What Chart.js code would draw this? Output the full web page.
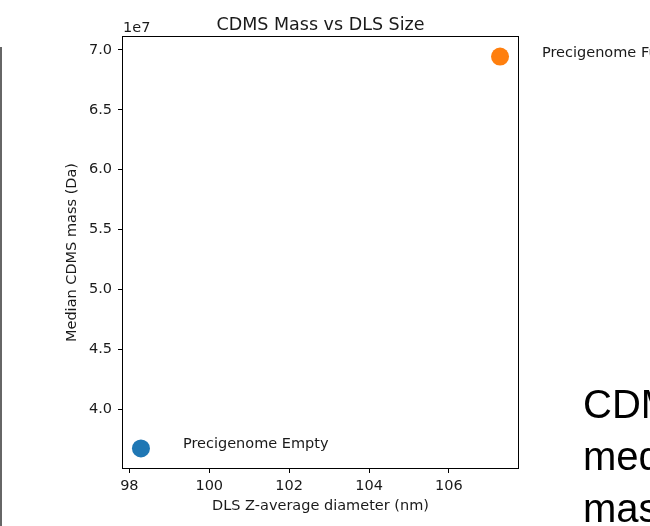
<!DOCTYPE html>
<html>
<head>
<meta charset="utf-8">
<script src="https://cdn.jsdelivr.net/npm/chart.js@4/dist/chart.umd.min.js"></script>
<style>
  html, body { margin: 0; padding: 0; background: #ffffff; }
  #wrap { position: relative; width: 650px; height: 526px; }
</style>
</head>
<body>
<div id="wrap"><canvas id="chart" width="650" height="526"></canvas></div>
<script>
// Samples: DLS Z-average diameter (nm) against median CDMS mass (Da)
const categories = ['Precigenome Empty', 'Precigenome Full'];
const dlsSize = [98.29, 107.28];
const cdmsMass = [3.672e7, 6.944e7];
const xTickValues = [98, 100, 102, 104, 106];
const yTickValues = [4.0e7, 4.5e7, 5.0e7, 5.5e7, 6.0e7, 6.5e7, 7.0e7];
const slideLines = ['CDMS', 'median', 'mass'];

const pointColors = ['#1f77b4', '#ff7f0e'];
const FONT = "'DejaVu Sans', sans-serif";
const TEXT = '#1a1a1a';

// 5% padding around the data range on both axes
function padded(values) {
  const lo = Math.min(...values), hi = Math.max(...values);
  const m = (hi - lo) * 0.05;
  return [lo - m, hi + m];
}
const [xMin, xMax] = padded(dlsSize);
const [yMin, yMax] = padded(cdmsMass);

const datasets = categories.map((name, i) => ({
  label: name,
  data: [{ x: dlsSize[i], y: cdmsMass[i] }],
  backgroundColor: pointColors[i],
  borderWidth: 0,
  pointRadius: 9,
  pointHoverRadius: 9
}));

const decorations = {
  id: 'decorations',
  beforeDraw(chart) {
    const ctx = chart.ctx;
    ctx.save();
    ctx.fillStyle = '#ffffff';
    ctx.fillRect(0, 0, chart.width, chart.height);
    // thin frame line along the left edge
    ctx.fillStyle = '#666666';
    ctx.fillRect(0, 47, 2, chart.height - 47);
    ctx.restore();
  },
  afterDraw(chart) {
    const ctx = chart.ctx;
    const a = chart.chartArea;
    const xs = chart.scales.x, ys = chart.scales.y;
    ctx.save();
    // axes box
    ctx.strokeStyle = '#000';
    ctx.lineWidth = 1;
    ctx.strokeRect(a.left - 0.5, a.top - 0.5, a.right - a.left + 1, a.bottom - a.top + 1);

    // title
    ctx.fillStyle = TEXT;
    ctx.font = '17.5px ' + FONT;
    ctx.textAlign = 'center';
    ctx.textBaseline = 'alphabetic';
    ctx.fillText('CDMS Mass vs DLS Size', (a.left + a.right) / 2, 29.5);

    // y offset text
    ctx.font = '14.5px ' + FONT;
    ctx.textAlign = 'left';
    ctx.fillText('1e7', a.left, 32);

    // point annotations
    categories.forEach((name, i) => {
      const px = xs.getPixelForValue(dlsSize[i] + 1.05);
      const py = ys.getPixelForValue(cdmsMass[i]);
      ctx.fillText(name, px, py);
    });

    // neighbouring slide text
    ctx.fillStyle = '#000';
    ctx.font = "40px 'Liberation Sans', Arial, sans-serif";
    slideLines.forEach((t, i) => ctx.fillText(t, 583, 418 + i * 52));
    ctx.restore();
  }
};

new Chart(document.getElementById('chart'), {
  type: 'scatter',
  data: { datasets },
  options: {
    responsive: false,
    animation: false,
    events: [],
    layout: { padding: { top: 37, right: 132, left: 0, bottom: 0 } },
    plugins: { legend: { display: false }, tooltip: { enabled: false }, title: { display: false } },
    scales: {
      x: {
        type: 'linear',
        min: xMin,
        max: xMax,
        afterFit(scale) { scale.height = 58; },
        afterBuildTicks(scale) { scale.ticks = xTickValues.map(v => ({ value: v })); },
        border: { display: false },
        grid: { display: true, drawOnChartArea: false, drawTicks: true, tickLength: 5, color: '#000', lineWidth: 1 },
        ticks: { color: TEXT, font: { family: FONT, size: 14.5 }, padding: 5, maxRotation: 0, autoSkip: false,
                 callback: v => String(v) },
        title: { display: true, text: 'DLS Z-average diameter (nm)', color: TEXT,
                 font: { family: FONT, size: 14.5 }, padding: { top: 0, bottom: 11 } }
      },
      y: {
        type: 'linear',
        min: yMin,
        max: yMax,
        afterFit(scale) { scale.width = 123; },
        afterBuildTicks(scale) { scale.ticks = yTickValues.map(v => ({ value: v })); },
        border: { display: false },
        grid: { display: true, drawOnChartArea: false, drawTicks: true, tickLength: 5, color: '#000', lineWidth: 1 },
        ticks: { color: TEXT, font: { family: FONT, size: 14.5 }, padding: 6, autoSkip: false,
                 callback: v => (v / 1e7).toFixed(1) },
        title: { display: true, text: 'Median CDMS mass (Da)', color: TEXT,
                 font: { family: FONT, size: 14.5 }, padding: { top: 64, bottom: 0 } }
      }
    }
  },
  plugins: [decorations]
});
</script>
</body>
</html>
